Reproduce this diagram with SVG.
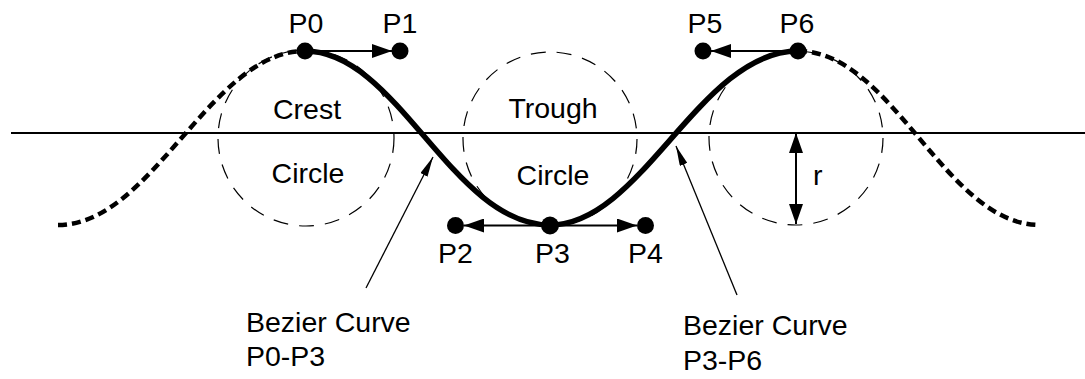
<svg xmlns="http://www.w3.org/2000/svg" width="1085" height="379" viewBox="0 0 1085 379">
<style>
text{font-family:"Liberation Sans",Arial,sans-serif;font-size:28.5px;fill:#000}
.m{text-anchor:middle}
.circ{fill:none;stroke:#000;stroke-width:1.2;stroke-dasharray:15 11}
.ext{fill:none;stroke:#000;stroke-width:4.5;stroke-dasharray:9 5}
.main{fill:none;stroke:#000;stroke-width:5.5}
.arr{stroke:#000;stroke-width:2;marker-end:url(#ah)}
.lead{stroke:#000;stroke-width:1.3;marker-end:url(#lh)}
.dot{fill:#000}
</style>
<defs>
<marker id="ah" markerUnits="userSpaceOnUse" markerWidth="20" markerHeight="14" refX="20" refY="7" orient="auto-start-reverse"><path d="M0,0 L20,7 L0,14 z" fill="#000"/></marker>
<marker id="lh" markerUnits="userSpaceOnUse" markerWidth="20" markerHeight="8" refX="20" refY="4" orient="auto"><path d="M0,0 L20,4 L0,8 z" fill="#000"/></marker>
</defs>
<rect width="1085" height="379" fill="#fff"/>
<g id="crest-circle"><circle class="circ" cx="306" cy="138" r="88"/><text class="m" x="307" y="119">Crest</text><text class="m" x="308" y="183">Circle</text></g>
<g id="trough-circle"><circle class="circ" cx="550" cy="139" r="87"/><text class="m" x="553" y="118">Trough</text><text class="m" x="553" y="185">Circle</text></g>
<g id="right-circle"><circle class="circ" cx="796" cy="138" r="87"/></g>
<g id="baseline"><line x1="11" y1="133" x2="1085" y2="133" stroke="#000" stroke-width="2"/></g>
<g id="wave">
<path class="ext" d="M58,225 C153,225 210,51 305,51"/>
<path class="ext" d="M798,51 C893,51 945,225 1040,225"/>
<path class="main" d="M305,51 C398,51 452,225 550,225 C642,225 700,51 798,51"/>
</g>
<g id="connectors">
<line class="arr" x1="305" y1="51" x2="392" y2="51"/>
<line class="arr" x1="798" y1="51" x2="711" y2="51"/>
<line class="arr" x1="550" y1="225.5" x2="464" y2="225.5"/>
<line class="arr" x1="550" y1="225.5" x2="637" y2="225.5"/>
<line stroke="#000" stroke-width="2" x1="796" y1="133" x2="796" y2="224" marker-start="url(#ah)" marker-end="url(#ah)"/>
<line class="lead" x1="366" y1="288" x2="433" y2="157"/>
<line class="lead" x1="737" y1="295" x2="676" y2="146"/>
</g>
<g id="P0"><circle class="dot" cx="305" cy="51" r="8.5"/><text class="m" x="306" y="33">P0</text></g>
<g id="P1"><circle class="dot" cx="400" cy="51" r="8.5"/><text class="m" x="400" y="33">P1</text></g>
<g id="P2"><circle class="dot" cx="455.5" cy="225.5" r="8.5"/><text class="m" x="455.5" y="263">P2</text></g>
<g id="P3"><circle class="dot" cx="550" cy="225.5" r="9"/><text class="m" x="552.5" y="263">P3</text></g>
<g id="P4"><circle class="dot" cx="645.5" cy="225.5" r="8.5"/><text class="m" x="645.5" y="263">P4</text></g>
<g id="P5"><circle class="dot" cx="703" cy="51" r="8.5"/><text class="m" x="705" y="33">P5</text></g>
<g id="P6"><circle class="dot" cx="798" cy="51" r="8.5"/><text class="m" x="797" y="33">P6</text></g>
<g id="r-label"><text x="813" y="185">r</text></g>
<g id="label-left"><text x="246" y="332">Bezier Curve</text><text x="246" y="366">P0-P3</text></g>
<g id="label-right"><text x="683" y="335">Bezier Curve</text><text x="683" y="370">P3-P6</text></g>
</svg>
